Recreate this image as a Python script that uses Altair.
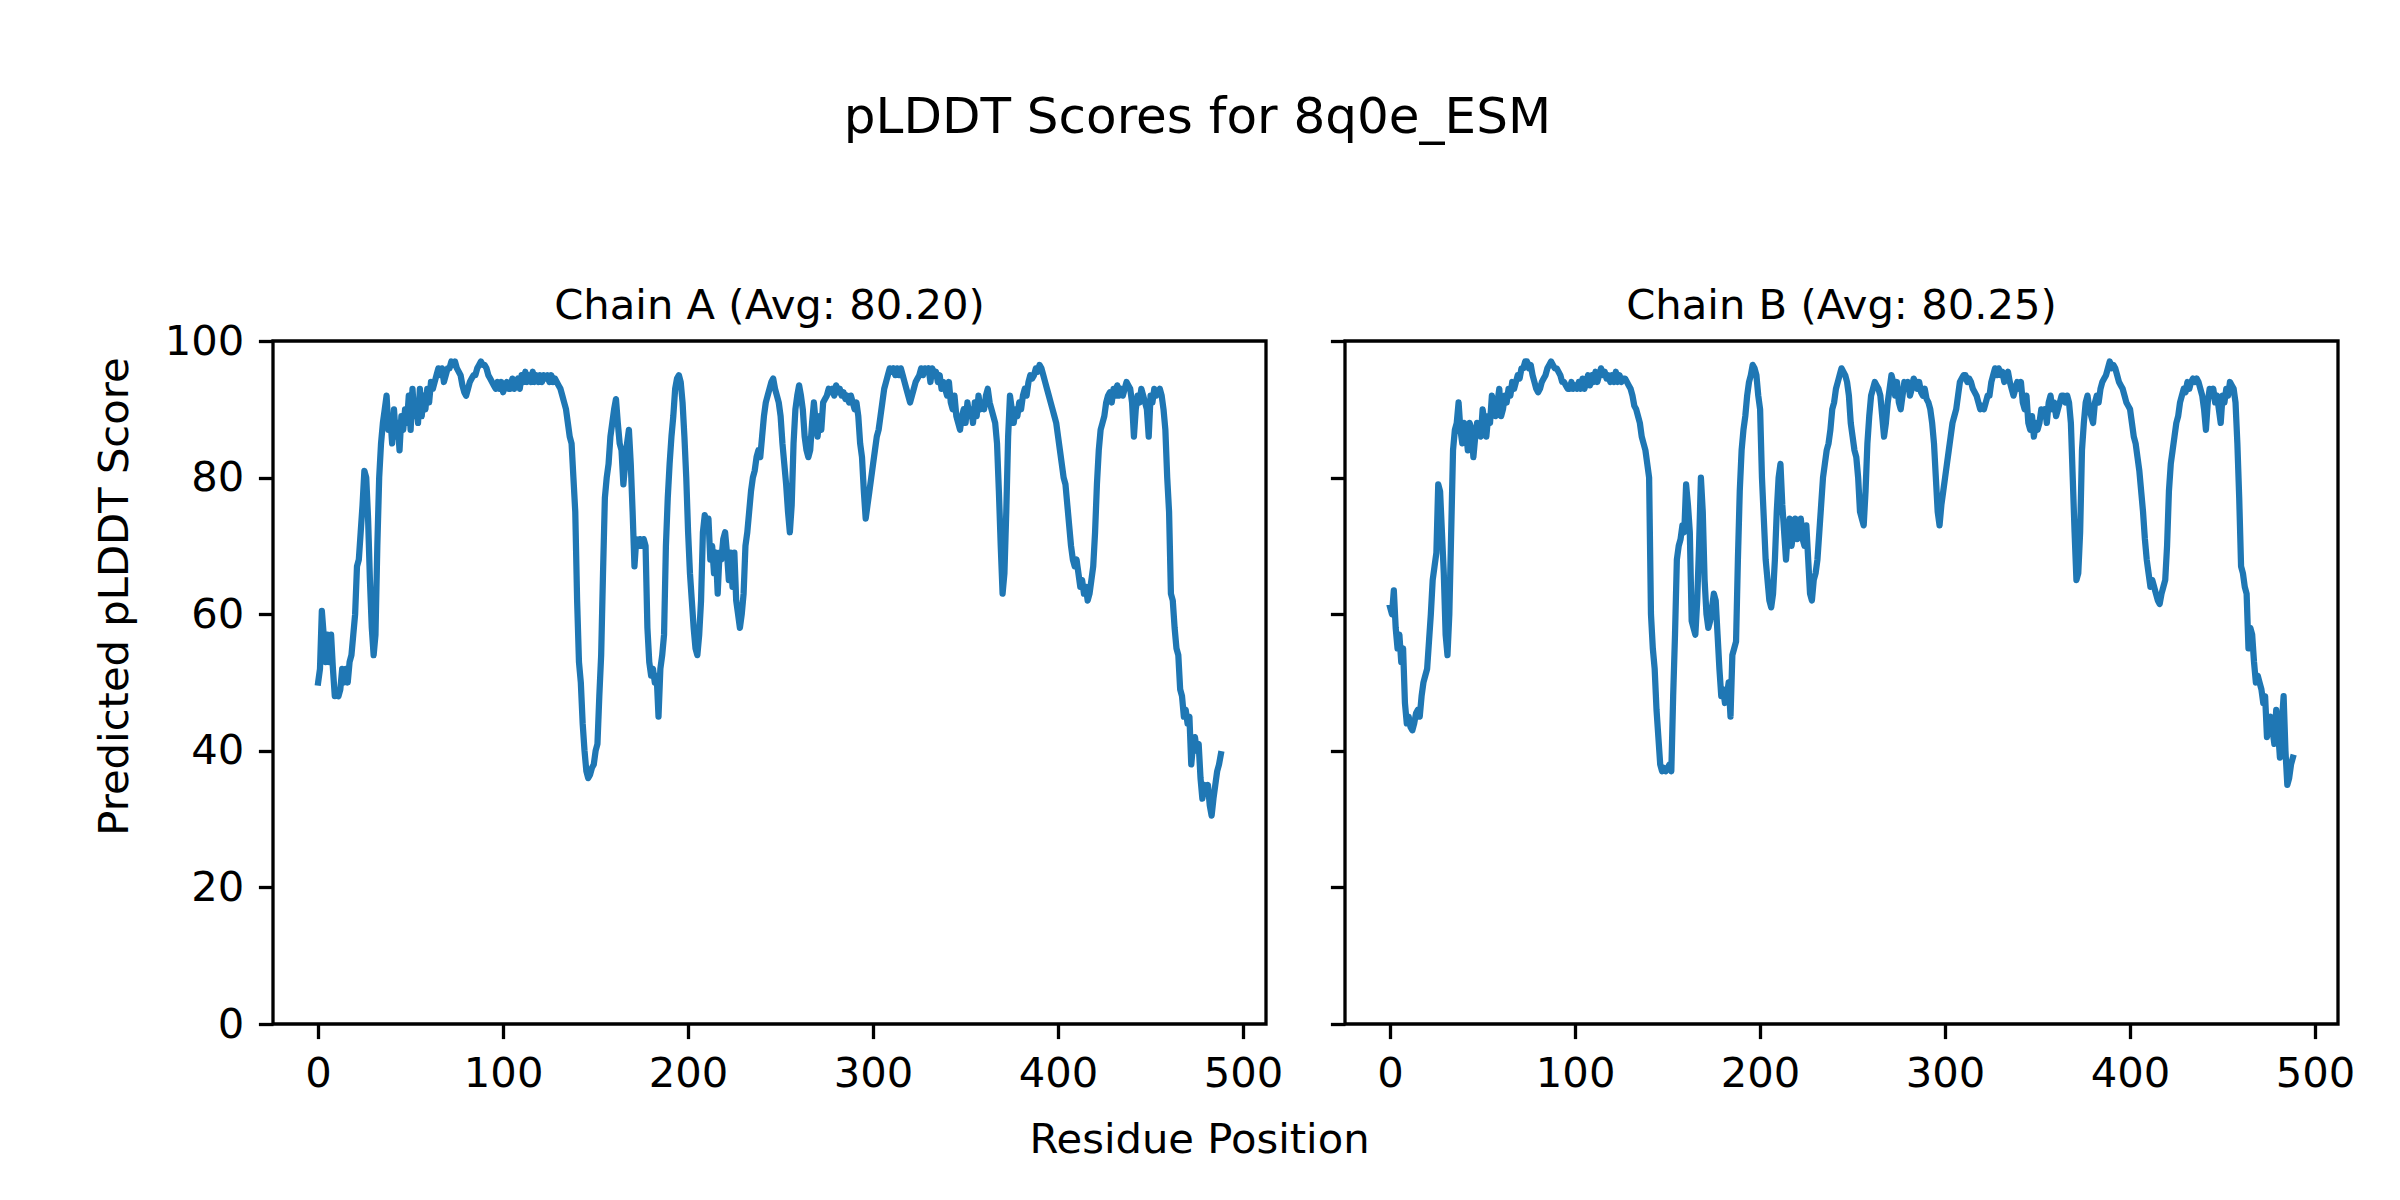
import altair as alt
import pandas as pd

# Residue positions (0..488) and pLDDT values
A_plddt = [
    50, 52, 60.5, 57, 53, 57, 53, 57, 52, 48, 48.5, 48, 49, 52, 50, 52, 50, 53, 54, 57,
    60, 67, 68, 72, 76, 81, 80, 74, 65, 58, 54, 57, 70, 80, 85, 88, 90, 92, 87, 89,
    85, 90, 86, 88, 84, 89, 87, 90, 88, 92, 87, 93, 89, 91, 88, 93, 89, 92, 90, 93,
    91, 94, 93, 94, 95, 96, 95, 96, 94, 95, 96, 96, 97, 96.5, 97, 96, 95.5, 95, 93.5, 92.5,
    92, 93, 94, 94.5, 95, 95, 96, 96.5, 97, 96.5, 96.5, 96, 95, 94.5, 94, 93.5, 93, 94, 93, 94,
    92.5, 93.5, 94, 93, 93, 94.5, 93, 94, 94.5, 93, 95, 94, 95.5, 94, 95, 94, 95.5, 94, 95, 94,
    95, 94, 95, 94.5, 95, 94, 95, 94, 94.5, 94, 93.5, 93, 92, 91, 90, 88, 86, 85, 80, 75,
    62, 53, 50, 44, 40, 37, 36, 36.5, 37.5, 38, 40, 41, 48, 54, 66, 77, 80, 82, 86, 88,
    90, 91.5, 88, 85, 84, 79, 82, 85, 87, 82, 75, 67, 71, 70, 71, 70, 71, 70, 58, 53,
    51, 52, 50, 51, 45, 52, 54, 57, 70, 77, 82, 86, 89, 93, 94.5, 95, 94, 91, 86, 80,
    72, 66, 62, 58, 55, 54, 57, 62, 72, 74.5, 73, 74, 68, 70, 66, 69, 63, 69, 68, 71,
    72, 69, 65, 69, 64, 69, 62, 60, 58, 60, 63, 70, 72, 75, 78, 80, 81, 83, 84, 83,
    86, 89, 91, 92, 93, 94, 94.5, 93, 92, 91, 89, 85, 82, 79, 75, 72, 76, 85, 90, 92,
    93.5, 92, 90, 86, 84, 83, 84, 88, 91, 88, 86, 89, 87, 91, 91.5, 92, 93, 92.5, 93, 92,
    93.5, 92.5, 93, 92, 92.5, 91.5, 92, 91, 92, 91, 90, 91, 89, 85, 83, 78, 74, 76, 78, 80,
    82, 84, 86, 87, 89, 91, 93, 94, 95, 96, 95.5, 96, 95, 96, 95, 96, 95, 94, 93, 92,
    91, 92, 93, 94, 94.5, 95, 96, 95, 96, 95.5, 96, 94, 96, 95, 95.5, 94, 95, 93, 94, 93,
    92, 94, 91, 90, 92, 89, 88, 87, 89, 90, 88, 91, 89, 90, 88, 91, 89, 92, 90, 91,
    90, 92, 93, 91, 90, 89, 88, 85, 78, 70, 63, 66, 75, 86, 92, 90, 88, 90, 89, 91,
    90, 92, 93, 92, 94, 95, 94.5, 95, 96, 95.5, 96.5, 96, 95, 94, 93, 92, 91, 90, 89, 88,
    86, 84, 82, 80, 79, 76, 73, 70, 68, 67, 68, 66, 64, 65, 63, 64, 62, 63, 65, 67,
    72, 79, 84, 87, 88, 89, 91, 92, 92.5, 91, 93, 92, 93.5, 92, 93, 92, 93, 94, 93.5, 93,
    91, 86, 90, 92, 91, 93, 92, 91, 90, 86, 92, 91, 93, 92, 92.5, 93, 92, 90, 87, 80,
    75, 63, 62, 58, 55, 54, 49, 48, 45, 46, 44, 45, 38, 41, 42, 40, 41, 36, 33, 35,
    34, 35, 32, 30.5, 33, 35, 37, 38, 39.5,
]

B_plddt = [
    61, 60, 63.5, 58, 55, 57, 53, 55, 47, 44, 45, 43.5, 43, 44, 45.5, 46, 45, 48, 50, 51,
    52, 56, 60, 65, 67, 69, 79, 78, 72, 66, 57, 54, 60, 72, 84, 87, 88, 91, 87, 85,
    88, 87, 84, 88, 87, 83, 86, 88, 87, 86, 90, 88, 86, 89, 88, 92, 90, 89, 91, 93,
    89, 90, 92, 91, 93, 92, 94, 93, 94, 95, 94.5, 96, 96, 97, 97, 96, 96.5, 95, 94, 93,
    92.5, 93, 94, 94.5, 95, 96, 96.5, 97, 96.5, 96, 96, 95.5, 95, 94, 94, 93.5, 93, 93, 94, 93,
    93.5, 93, 94, 93, 94.5, 93, 94, 95, 93.5, 95, 94, 95.5, 94, 95, 96, 95, 95.5, 94.5, 95, 94,
    95, 94, 95.5, 94, 95, 94, 94.5, 94.5, 94, 93.5, 93, 92, 90.5, 90, 89, 88, 86, 85, 84, 82,
    80, 60, 55, 52, 46, 42, 38, 37, 37.5, 37, 37.5, 38, 37, 48, 57, 68, 70, 71, 73, 72,
    79, 76, 72, 59, 58, 57, 62, 70, 80, 75, 65, 60, 58, 59, 61, 63, 62, 57, 52, 48,
    49, 47, 48, 50, 45, 54, 55, 56, 68, 78, 84, 87, 89, 92, 94, 95, 96.5, 96, 95, 92,
    90, 80, 74, 68, 65, 62, 61, 63, 68, 75, 80, 82, 76, 72, 68, 72, 74, 70, 72, 74,
    71, 72, 74, 71, 70, 73, 68, 63, 62, 65, 66, 68, 72, 76, 80, 82, 84, 85, 87, 90,
    91, 93, 94, 95, 96, 95.5, 95, 94, 92, 88, 86, 84, 83, 80, 75, 74, 73, 78, 85, 89,
    92, 93, 94, 93.5, 93, 92, 89, 86, 88, 91, 93, 95, 94, 92, 94, 91, 90, 92, 94, 93,
    94, 92, 93, 94.5, 94, 93, 94, 92.5, 92, 93, 91.5, 91, 90, 88, 85, 80, 75, 73, 76, 78,
    80, 82, 84, 86, 88, 89, 90, 92, 94, 94.5, 95, 95, 94, 94.5, 94, 93, 92.5, 92, 91, 90,
    90.5, 90, 91, 92, 92, 94, 95, 96, 95, 96, 95, 95.5, 94, 95, 95.5, 94, 93, 92, 93, 94,
    93, 94, 91, 90, 92, 88, 87, 89, 86, 88, 87, 88, 90, 89, 90, 88, 91, 92, 90, 91,
    89, 90, 91, 92, 92, 91, 92, 91, 88, 80, 72, 65, 66, 72, 84, 88, 91, 92, 90, 89,
    88, 91, 92, 91, 93, 94, 94.5, 95, 96, 97, 96, 96.5, 96, 95, 94, 93.5, 93, 92, 91, 90.5,
    90, 88, 86, 85, 83, 81, 78, 75, 71, 68, 66, 64, 65, 64, 63, 62, 61.5, 63, 64, 65,
    70, 78, 82, 84, 86, 88, 89, 91, 92, 93, 92.5, 94, 93, 94, 94.5, 94, 94.5, 94, 93, 92,
    90, 87, 91, 93, 92, 93, 91, 92, 90, 88, 92, 91, 93, 92, 94, 93.5, 93, 91, 85, 77,
    67, 66, 64, 63, 55, 58, 57, 53, 50, 51, 50, 49, 47, 48, 42, 44, 45, 43, 41, 46,
    43, 39, 44, 48, 40, 35, 36, 38, 39,
]

A_pos = list(range(len(A_plddt)))
B_pos = list(range(len(B_plddt)))

chain_titles = ["Chain A (Avg: 80.20)", "Chain B (Avg: 80.25)"]
x_ticks = [0, 100, 200, 300, 400, 500]
y_ticks = [0, 20, 40, 60, 80, 100]

FONT = "DejaVu Sans"
FS = 41.7
BLUE = "#1f77b4"

dfA = pd.DataFrame({"pos": A_pos, "plddt": A_plddt})
dfB = pd.DataFrame({"pos": B_pos, "plddt": B_plddt})

xscale = alt.Scale(domain=[-24.4, 512.4], nice=False, zero=False)
yscale = alt.Scale(domain=[0, 100], nice=False)

common_axis = dict(
    grid=False, domain=False, tickSize=14.6, tickWidth=3.3, tickColor="black",
    labelPadding=14.6, labelFont=FONT, labelFontSize=FS, labelColor="black",
    titleFont=FONT, titleFontSize=FS, titleFontWeight="normal", titleColor="black",
)


def panel(df, title, first):
    if first:
        xaxis = alt.Axis(values=x_ticks, format="d", title="Residue Position",
                         titleX=926, titleY=115, titleBaseline="middle",
                         titleAlign="center", **common_axis)
        yaxis = alt.Axis(values=y_ticks, format="d", title="Predicted pLDDT Score",
                         titleX=-159, titleY=255, titleBaseline="middle",
                         titleAlign="center", titleAngle=-90, **common_axis)
        dy = 65
    else:
        xaxis = alt.Axis(values=x_ticks, format="d", title=None, **common_axis)
        yaxis = alt.Axis(values=y_ticks, labels=False, title=None, **common_axis)
        dy = 46
    return alt.Chart(df).mark_line(
        color=BLUE, strokeWidth=6.25, strokeJoin="round", strokeCap="square"
    ).encode(
        x=alt.X("pos:Q", scale=xscale, axis=xaxis),
        y=alt.Y("plddt:Q", scale=yscale, axis=yaxis),
    ).properties(
        width=993, height=683,
        title=alt.TitleParams(text=title, font=FONT, fontSize=FS, fontWeight="normal",
                              color="black", offset=25, dy=dy, baseline="alphabetic",
                              anchor="middle"),
    )


chart = alt.hconcat(
    panel(dfA, chain_titles[0], True),
    panel(dfB, chain_titles[1], False),
    spacing=79, bounds="flush",
).properties(
    title=alt.TitleParams(text="pLDDT Scores for 8q0e_ESM", font=FONT, fontSize=50,
                          fontWeight="normal", color="black", anchor="middle",
                          baseline="alphabetic", offset=101, dx=-27),
    padding={"left": 84, "top": 85, "right": 10, "bottom": 10},
).configure(font=FONT).configure_view(stroke="black", strokeWidth=3.3)

chart.save("out.html", embed_options={"renderer": "svg", "actions": False})
